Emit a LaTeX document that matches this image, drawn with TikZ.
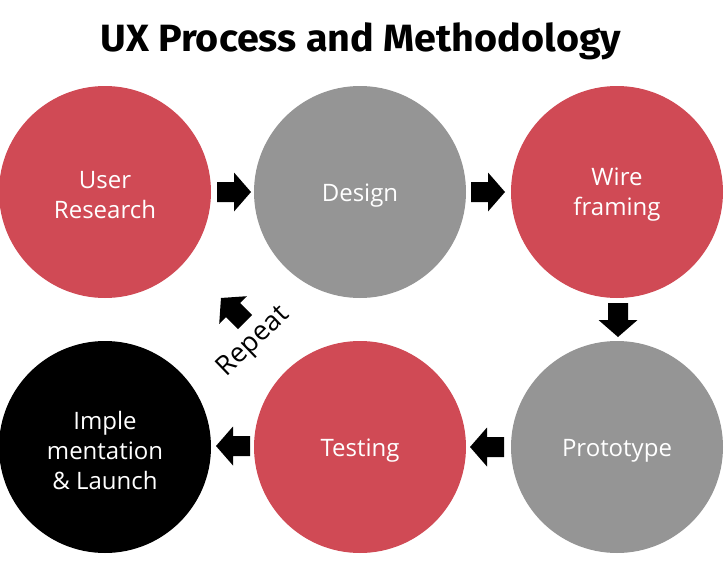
\documentclass[tikz,border=0pt]{standalone}
\usepackage{fontspec}
\setmainfont{Open Sans}
\newfontfamily\headfont{Fira Sans}
\definecolor{uxred}{HTML}{D04A55}
\definecolor{uxgray}{HTML}{959595}
\begin{document}
\begin{tikzpicture}[x=1pt,y=-1pt,
  stage/.style={circle, minimum size=212pt, inner sep=0pt},
  stagetext/.style={align=center, text=white, font=\fontsize{24}{30}\selectfont},
  blockarrow/.pic={\fill[black] (-17,-10) -- (0,-10) -- (0,-19.5) -- (17,0)
    -- (0,19.5) -- (0,10) -- (-17,10) -- cycle;}]
\useasboundingbox (0,0) rectangle (724,568);

% title
\node[font=\headfont\bfseries\fontsize{38}{40}\selectfont, anchor=base, xscale=1.04]
  (title) at (361,51) {UX Process and Methodology};

% process stages
\node[stage, fill=uxred]   (research)  at (105,192) {};
\node[stage, fill=uxgray]  (design)    at (360,192) {};
\node[stage, fill=uxred]   (wire)      at (617,192) {};
\node[stage, fill=uxgray]  (prototype) at (617,447) {};
\node[stage, fill=uxred]   (testing)   at (360,447) {};
\node[stage, fill=black]   (launch)    at (105,447) {};

% stage labels, set a little below the circle centres
\node[stagetext] (researchtext)  at ([yshift=-3pt]research)  {User\\Research};
\node[stagetext] (designtext)    at ([yshift=-4pt]design)    {Design};
\node[stagetext] (wiretext)      at ([yshift=-3pt]wire)      {Wire\\framing};
\node[stagetext] (prototypetext) at ([yshift=-4pt]prototype) {Prototype};
\node[stagetext] (testingtext)   at ([yshift=-4pt]testing)   {Testing};
\node[stagetext] (launchtext)    at ([yshift=-3pt]launch)    {Imple\\mentation\\\& Launch};

% block arrows between stages
\pic at (234,192) {blockarrow};
\pic at (488,192) {blockarrow};
\pic[rotate=-90] at (618,320) {blockarrow};
\pic[rotate=180] at (487,447) {blockarrow};
\pic[rotate=180] at (233,446) {blockarrow};
\pic[rotate=135] at (233,310) {blockarrow};

% loop back label
\node[rotate=44, font=\fontsize{27}{30}\selectfont] (repeat) at (254,342) {Repeat};
\end{tikzpicture}
\end{document}
